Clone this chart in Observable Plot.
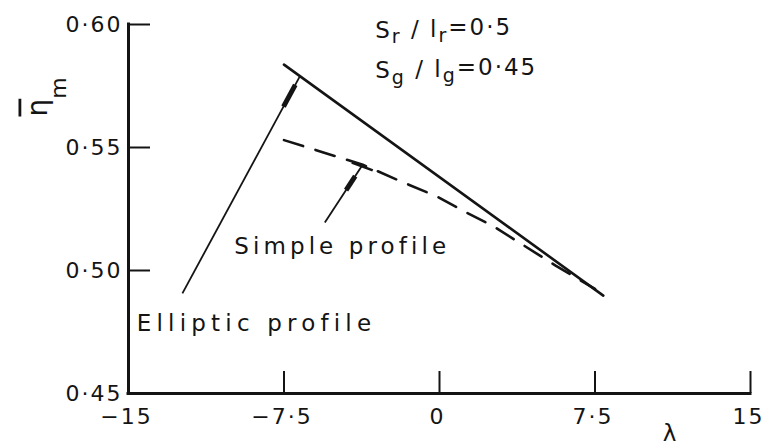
<!DOCTYPE html>
<html>
<head>
<meta charset="utf-8">
<script src="https://cdn.jsdelivr.net/npm/d3@7"></script>
<script src="https://cdn.jsdelivr.net/npm/@observablehq/plot@0.6"></script>
<style>
  html, body { margin: 0; padding: 0; background: #fff; }
  #chart svg { display: block; }
</style>
</head>
<body>
<div id="chart"></div>
<script>
// Mean efficiency (η̄m) against λ for the elliptic and the simple blade profile

const lambdaTicks = [-15, -7.5, 0, 7.5, 15];
const lambdaTickLabels = ["−15", "−7·5", "0", "7·5", "15"];
const etaTicks = [0.45, 0.50, 0.55, 0.60];
const etaTickLabels = ["0·45", "0·50", "0·55", "0·60"];

const ellipticLambda = [-7.5, 7.9];
const ellipticEta = [0.5837, 0.4898];

const simpleLambda = [-7.5, -5.6, -3.7, -1.8, -0.1, 1.2, 2.6, 5.6, 7.5];
const simpleEta = [0.553, 0.548, 0.543, 0.536, 0.530, 0.524, 0.518, 0.502, 0.4925];

const profileNames = ["Elliptic profile", "Simple profile"];
const profileLabelLambda = [-14.6, -9.9];
const profileLabelEta = [0.4785, 0.5098];

// leader lines from each profile name to its curve (tail -> head)
const leaderTailLambda = [-12.4, -5.53];
const leaderTailEta = [0.4907, 0.5195];
const leaderHeadLambda = [-6.73, -3.70];
const leaderHeadEta = [0.579, 0.5431];
// short stop bar at the head of the simple-profile leader
const stopBarLambda = [-4.23, -3.22];
const stopBarEta = [0.5439, 0.5407];

const ratioTexts = ["Sr/lr=0·5", "Sg/lg=0·45"];
const ratioLambda = [-3.1, -3.1];
const ratioEta = [0.5976, 0.5813];

const axisTitle = "λ";
const axisTitleLambda = 11.1;
const etaTitle = "η";

// ---- layout ----
const W = 766, H = 445;
const mL = 128, mR = 16, mT = 24, mB = 52;
const frameW = W - mL - mR, frameH = H - mT - mB;
const ink = "#141414";
const font = "DejaVu Sans";

const ellipticRows = ellipticLambda.map((x, i) => ({x, y: ellipticEta[i]}));
const simpleRows = simpleLambda.map((x, i) => ({x, y: simpleEta[i]}));
const leaders = leaderTailLambda.map((_, i) => ({
  x1: leaderTailLambda[i], y1: leaderTailEta[i],
  x2: leaderHeadLambda[i], y2: leaderHeadEta[i]
}));
// thickened "dart" section on each leader, as fractions of its length
const dartSpans = [[0.86, 0.96], [0.56, 0.80]];
const darts = leaders.map((l, i) => {
  const [a, b] = dartSpans[i];
  return {
    x1: l.x1 + (l.x2 - l.x1) * a, y1: l.y1 + (l.y2 - l.y1) * a,
    x2: l.x1 + (l.x2 - l.x1) * b, y2: l.y1 + (l.y2 - l.y1) * b
  };
});
const stopBar = [{x1: stopBarLambda[0], y1: stopBarEta[0], x2: stopBarLambda[1], y2: stopBarEta[1]}];

const plot = Plot.plot({
  width: W, height: H,
  marginLeft: mL, marginRight: mR, marginTop: mT, marginBottom: mB,
  x: {domain: [-15, 15], axis: null},
  y: {domain: [0.45, 0.60], axis: null},
  style: {fontFamily: font, color: ink, background: "#fff", overflow: "visible"},
  marks: [
    // axes
    Plot.ruleX([-15], {y1: 0.45, y2: 0.60, stroke: ink, strokeWidth: 3, strokeLinecap: "square"}),
    Plot.ruleY([0.45], {x1: -15, x2: 15, stroke: ink, strokeWidth: 3, strokeLinecap: "square"}),
    Plot.tickX(lambdaTicks.slice(1), {x: d => d, insetTop: frameH - 22, stroke: ink, strokeWidth: 2}),
    Plot.tickY(etaTicks.slice(1), {y: d => d, insetRight: frameW - 22, stroke: ink, strokeWidth: 2}),
    Plot.text(lambdaTicks, {
      x: d => d, text: (d, i) => lambdaTickLabels[i],
      frameAnchor: "bottom", dx: -2, dy: 23, lineAnchor: "middle",
      fontSize: 22, fill: ink
    }),
    Plot.text(etaTicks, {
      y: d => d, text: (d, i) => etaTickLabels[i],
      frameAnchor: "left", dx: -6, textAnchor: "end", lineAnchor: "middle",
      fontSize: 22, fill: ink
    }),
    Plot.text([axisTitle], {
      x: axisTitleLambda, frameAnchor: "bottom", dy: 40, lineAnchor: "middle",
      fontSize: 23, fill: ink
    }),
    Plot.text([etaTitle], {
      frameAnchor: "top-left", dx: -82, dy: 92, rotate: -90,
      textAnchor: "start", lineAnchor: "bottom",
      fontSize: 28, fill: ink
    }),

    // curves
    Plot.line(ellipticRows, {x: "x", y: "y", stroke: ink, strokeWidth: 2.6}),
    Plot.line(simpleRows, {x: "x", y: "y", stroke: ink, strokeWidth: 2.6, strokeDasharray: "20,13"}),

    // leaders
    Plot.link(leaders, {x1: "x1", y1: "y1", x2: "x2", y2: "y2", stroke: ink, strokeWidth: 1.8}),
    Plot.link(darts, {x1: "x1", y1: "y1", x2: "x2", y2: "y2", stroke: ink, strokeWidth: 5}),
    Plot.link(stopBar, {x1: "x1", y1: "y1", x2: "x2", y2: "y2", stroke: ink, strokeWidth: 2.6}),

    // annotations
    Plot.text(profileNames, {
      x: (d, i) => profileLabelLambda[i], y: (d, i) => profileLabelEta[i], text: d => d,
      textAnchor: "start", lineAnchor: "middle", fontSize: 23, fill: ink
    }),
    Plot.text(ratioTexts, {
      x: (d, i) => ratioLambda[i], y: (d, i) => ratioEta[i], text: d => d,
      textAnchor: "start", lineAnchor: "middle", fontSize: 23, fill: ink
    })
  ]
});

// typographic touches: letter spacing, subscripts and the overbar
const tickSet = new Set([...lambdaTickLabels, ...etaTickLabels]);
const nameSpacing = new Map([[profileNames[0], "5.2px"], [profileNames[1], "4.1px"]]);
const ratioSet = new Set(ratioTexts);

d3.select(plot).selectAll("text").each(function () {
  const t = d3.select(this);
  const s = t.text();
  if (tickSet.has(s)) {
    t.style("letter-spacing", "2px");
  } else if (nameSpacing.has(s)) {
    t.style("letter-spacing", nameSpacing.get(s));
  } else if (ratioSet.has(s)) {
    t.text("").style("letter-spacing", "2px");
    let sub = false;
    for (let i = 0; i < s.length; i++) {
      const c = s[i];
      const isSub = (c === "r" || c === "g") && (s[i - 1] === "S" || s[i - 1] === "l");
      const span = t.append("tspan").text(c === "/" ? " / " : c);
      if (isSub) {
        span.attr("font-size", 19);
        if (!sub) span.attr("dy", "0.3em");
        sub = true;
      } else if (sub) {
        span.attr("dy", "-0.3em");
        sub = false;
      }
    }
  } else if (s === etaTitle) {
    t.text("");
    t.append("tspan").text(etaTitle).style("text-decoration", "overline");
    t.append("tspan").text("m").attr("font-size", 22).attr("dy", 19);
  }
});

document.getElementById("chart").appendChild(plot);
</script>
</body>
</html>
